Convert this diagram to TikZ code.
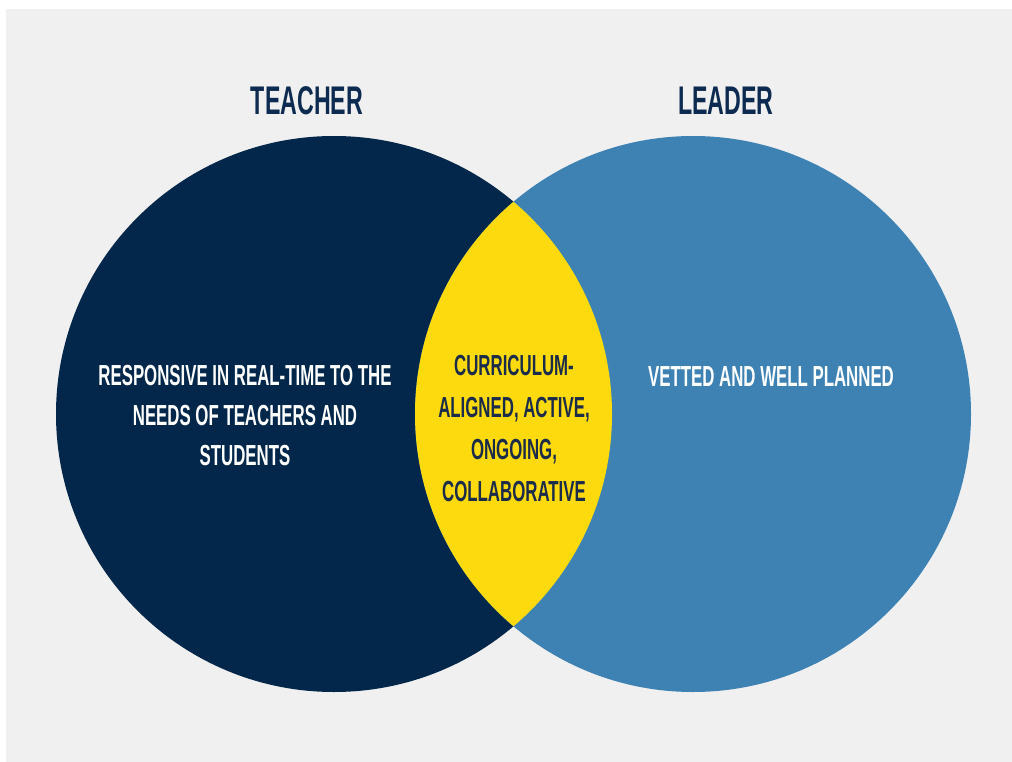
\documentclass[tikz,border=0pt]{standalone}
\usepackage{fontspec}
\usepackage{xcolor}
\newfontfamily\vennfont{Liberation Sans}[FakeStretch=0.58]
\definecolor{bggray}{HTML}{F0F0F0}
\definecolor{navy}{HTML}{03274A}
\definecolor{skyblue}{HTML}{3D82B3}
\definecolor{gold}{HTML}{FCDA0E}
\definecolor{titlenavy}{HTML}{0D2B50}
\definecolor{lenstext}{HTML}{1B2C4A}

\begin{document}
\begin{tikzpicture}[x=1pt,y=-1pt,
    title/.style={font=\vennfont\bfseries\fontsize{40}{44}\selectfont,text=titlenavy},
    vennlabel/.style={align=center,text=white,font=\vennfont\bfseries\fontsize{29}{40}\selectfont}]
  \fill[white] (0,0) rectangle (1012,762);
  \fill[bggray] (6,9) rectangle (1012,762);
  \useasboundingbox (0,0) rectangle (1012,762);
  % the two sets
  \coordinate (teacher) at (334,414);
  \coordinate (leader) at (693,414);
  \fill[navy] (teacher) circle (278pt);
  \fill[skyblue] (leader) circle (278pt);
  \begin{scope}
    \clip (teacher) circle (278pt);
    \fill[gold] (leader) circle (278pt);
  \end{scope}
  % titles
  \node[title] (teacher title) at (307,101) {TEACHER};
  \node[title] (leader title) at (726,101) {LEADER};
  % texts
  \node[vennlabel] (teacher text) at (245,416) {RESPONSIVE IN REAL-TIME TO THE\\NEEDS OF TEACHERS AND\\STUDENTS};
  \node[vennlabel] (leader text) at (771,377) {VETTED AND WELL PLANNED};
  \node[vennlabel,text=lenstext,font=\vennfont\bfseries\fontsize{29}{42}\selectfont] (shared text) at (514,429) {CURRICULUM-\\ALIGNED, ACTIVE,\\ONGOING,\\COLLABORATIVE};
\end{tikzpicture}
\end{document}
